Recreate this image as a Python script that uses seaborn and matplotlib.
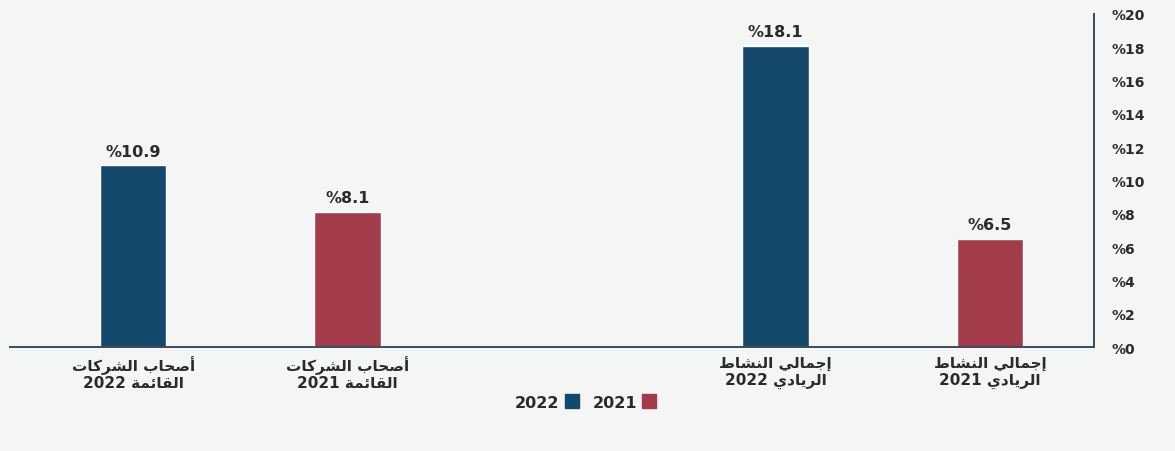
import matplotlib
matplotlib.use("Agg")
import matplotlib.pyplot as plt
from matplotlib.lines import Line2D
import seaborn as sns
import pandas as pd

# ---- data ----
categories = ["أصحاب الشركات\nالقائمة 2022", "أصحاب الشركات\nالقائمة 2021",
              "إجمالي النشاط\nالريادي 2022", "إجمالي النشاط\nالريادي 2021"]
years = ["2022", "2021", "2022", "2021"]
values = [10.9, 8.1, 18.1, 6.5]
y_ticks = list(range(0, 21, 2))
year_colors = {"2022": "#15496c", "2021": "#a33c4a"}

# ---- minimal Arabic shaping (contextual forms + right-to-left order) ----
# letter: (isolated, final, initial, medial); two entries = right-joining only
FORMS = {
    "ا": (0xFE8D, 0xFE8E), "أ": (0xFE83, 0xFE84), "إ": (0xFE87, 0xFE88),
    "ب": (0xFE8F, 0xFE90, 0xFE91, 0xFE92), "ة": (0xFE93, 0xFE94),
    "ت": (0xFE95, 0xFE96, 0xFE97, 0xFE98), "ج": (0xFE9D, 0xFE9E, 0xFE9F, 0xFEA0),
    "ح": (0xFEA1, 0xFEA2, 0xFEA3, 0xFEA4), "د": (0xFEA9, 0xFEAA),
    "ر": (0xFEAD, 0xFEAE), "ش": (0xFEB5, 0xFEB6, 0xFEB7, 0xFEB8),
    "ص": (0xFEB9, 0xFEBA, 0xFEBB, 0xFEBC), "ط": (0xFEC1, 0xFEC2, 0xFEC3, 0xFEC4),
    "ق": (0xFED5, 0xFED6, 0xFED7, 0xFED8), "ك": (0xFED9, 0xFEDA, 0xFEDB, 0xFEDC),
    "ل": (0xFEDD, 0xFEDE, 0xFEDF, 0xFEE0), "م": (0xFEE1, 0xFEE2, 0xFEE3, 0xFEE4),
    "ن": (0xFEE5, 0xFEE6, 0xFEE7, 0xFEE8), "ي": (0xFEF1, 0xFEF2, 0xFEF3, 0xFEF4),
    "ئ": (0xFE89, 0xFE8A, 0xFE8B, 0xFE8C),
}


def shape_word(word):
    out = []
    for i, ch in enumerate(word):
        if ch not in FORMS:
            out.append(ch)
            continue
        f = FORMS[ch]
        prev = word[i - 1] if i > 0 else None
        nxt = word[i + 1] if i + 1 < len(word) else None
        join_prev = prev in FORMS and len(FORMS[prev]) == 4
        join_next = len(f) == 4 and nxt in FORMS
        if join_prev and join_next:
            code = f[3]
        elif join_next:
            code = f[2]
        elif join_prev:
            code = f[1]
        else:
            code = f[0]
        out.append(chr(code))
    return "".join(out)


def rtl_line(line):
    words = []
    for w in line.split(" "):
        if any(c in FORMS for c in w):
            words.append(shape_word(w)[::-1])
        else:
            words.append(w)
    return " ".join(words[::-1])


def rtl(text):
    return "\n".join(rtl_line(l) for l in text.split("\n"))


# ---- layout: a blank slot separates the two category groups ----
spacer = " "
order = categories[:2] + [spacer] + categories[2:]
df = pd.DataFrame({"category": categories, "year": years, "value": values})

bg = "#f4f5f5"
axis_col = "#3e4b57"
text_col = "#2b2b2b"

sns.set_theme(style="white")
plt.rcParams["font.family"] = ["DejaVu Sans"]

fig = plt.figure(figsize=(11.75, 4.52), dpi=100, facecolor=bg)
ax = fig.add_axes([0.0085, 0.230, 0.9225, 0.737], facecolor=bg)

sns.barplot(data=df, x="category", y="value", hue="year", order=order,
            palette=year_colors, hue_order=["2022", "2021"], dodge=False,
            width=0.31, saturation=1, legend=False, ax=ax)

for cont in ax.containers:
    labels = [f"%{v.get_height():g}" for v in cont]
    ax.bar_label(cont, labels=labels, padding=5, fontsize=11.5,
                 fontweight="bold", color=text_col)

ax.set_xlim(-0.575, 4.486)
ax.set_ylim(0, 20)
ax.yaxis.tick_right()
ax.set_yticks(y_ticks)
ax.set_yticklabels([f"%{t}" for t in y_ticks], fontsize=10,
                   fontweight="bold", color=text_col)
ax.set_xticks(range(len(order)))
ax.set_xticklabels([rtl(c) if c != spacer else "" for c in order],
                   fontsize=11, fontweight="bold", color=text_col,
                   multialignment="center", linespacing=1.1)
ax.tick_params(axis="y", length=0, pad=13)
ax.tick_params(axis="x", length=0, pad=6)
ax.set_xlabel("")
ax.set_ylabel("")

for side in ("left", "top"):
    ax.spines[side].set_visible(False)
for side in ("bottom", "right"):
    ax.spines[side].set_visible(True)
    ax.spines[side].set_color(axis_col)
    ax.spines[side].set_linewidth(1.4)

handles = [Line2D([], [], marker="s", linestyle="none", markersize=10,
                  markerfacecolor=year_colors[y], markeredgecolor=year_colors[y])
           for y in ["2022", "2021"]]
fig.legend(handles, ["2022", "2021"], loc="center", bbox_to_anchor=(0.498, 0.108),
           ncol=2, frameon=False, markerfirst=False, handletextpad=0.35,
           columnspacing=0.9, handlelength=0.8,
           prop={"size": 11.5, "weight": "bold"}, labelcolor=text_col)

fig.savefig("out.png", dpi=100, facecolor=bg)
